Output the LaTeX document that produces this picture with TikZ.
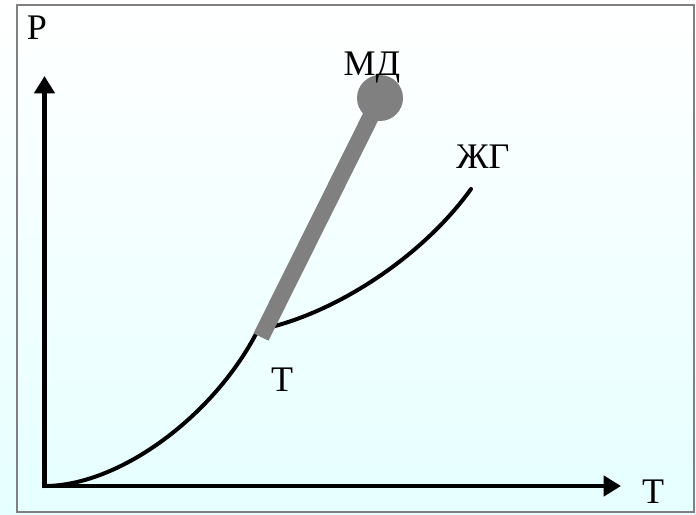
\documentclass[tikz,border=0pt]{standalone}
\usepackage{fontspec}
\setmainfont{Liberation Serif}
\usetikzlibrary{arrows.meta,positioning}
\definecolor{bgcyan}{RGB}{230,255,255}
\definecolor{barGray}{RGB}{128,128,128}

\begin{document}
\begin{tikzpicture}[x=0.75pt, y=-0.75pt,
    every node/.style={font=\fontsize{27}{30}\selectfont, inner sep=0pt},
    axisline/.style={line width=3.6pt, -{Triangle[width=15pt,length=13pt]}},
    curveline/.style={line width=3pt, line cap=round, line join=round}]
    % background and frame
    \shade[top color=white, bottom color=bgcyan] (0,0) rectangle (696,514);
    \useasboundingbox (0,0) rectangle (696,514);
    \draw[barGray, line width=1.5pt] (17,5) rectangle (694,512);

    % axes
    \coordinate (origin) at (44.5,486);
    \coordinate (ytip) at (44.5,76);
    \coordinate (xtip) at (621,486);
    \draw[axisline] ([yshift=-1.8pt]origin) -- (ytip);
    \draw[axisline] ([xshift=-1.8pt]origin) -- (xtip);
    \node (pLabel) at (37,28) {P};
    \node (tLabel) at (653,492) {T};

    % phase curves
    \coordinate (triple) at (258,330);
    \coordinate (zhgEnd) at (471,189);
    \draw[curveline] (origin) .. controls (120,486) and (215,415) .. (triple);
    \draw[curveline] (triple) .. controls (330,316) and (420,260) .. (zhgEnd);

    % melting line
    \node[circle, fill=barGray, minimum size=46pt*0.75] (mdDot) at (380,98) {};
    \coordinate (barEnd) at (261,337);
    \draw[barGray, line width=12.5pt] (barEnd) -- (mdDot.center);

    % labels
    \node (mdLabel) at (372,68) {МД};
    \node (zhgLabel) at (483,157) {ЖГ};
    \node (tripleLabel) at (282,380) {T};
\end{tikzpicture}
\end{document}
